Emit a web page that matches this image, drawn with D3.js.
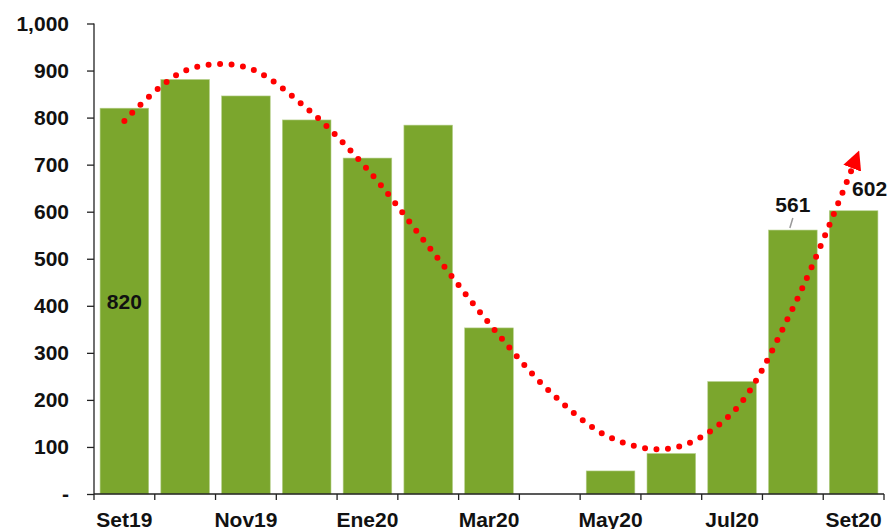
<!DOCTYPE html>
<html>
<head>
<meta charset="utf-8">
<script src="https://cdn.jsdelivr.net/npm/d3@7"></script>
<style>
  body { margin: 0; background: #fff; }
  text { font-family: Arial, "Liberation Sans", sans-serif; font-weight: bold; fill: #111; }
</style>
</head>
<body>
<svg id="chart" width="891" height="529"></svg>
<script>
var months = ["Set19", "Oct19", "Nov19", "Dic19", "Ene20", "Feb20", "Mar20",
              "Abr20", "May20", "Jun20", "Jul20", "Ago20", "Set20"];
var values = [820, 881, 846, 795, 714, 784, 353, 0, 49, 86, 239, 561, 602];
var trend = [793, 900, 907, 820, 690, 527, 363, 218, 120, 97, 172, 395, 700];
var shownMonths = ["Set19", "Nov19", "Ene20", "Mar20", "May20", "Jul20", "Set20"];
var yTicks = [0, 100, 200, 300, 400, 500, 600, 700, 800, 900, 1000];

var svg = d3.select("#chart");
var plotLeft = 94, plotRight = 884, plotTop = 23.5, plotBottom = 494;
var fs = "21px";

var x = d3.scaleBand().domain(months).range([plotLeft, plotRight]).paddingInner(0.2).paddingOuter(0.1);
var y = d3.scaleLinear().domain([0, 1000]).range([plotBottom, plotTop]);

// bars
svg.selectAll("rect.bar")
    .data(values)
    .enter()
    .append("rect")
    .attr("class", "bar")
    .attr("x", function(d, i) { return x(months[i]); })
    .attr("y", function(d) { return y(d); })
    .attr("width", x.bandwidth())
    .attr("height", function(d) { return plotBottom - y(d); })
    .style("fill", "#7BA62D")
    .style("stroke", "#b5cf8a")
    .style("stroke-width", 0.6);

// y axis
var yAxis = d3.axisLeft(y)
    .tickValues(yTicks)
    .tickSize(7)
    .tickFormat(function(d) { return d === 0 ? "-" : d3.format(",")(d); });
var gy = svg.append("g").attr("transform", "translate(" + plotLeft + ",0)").call(yAxis);
gy.select(".domain").attr("d", "M0," + plotTop + "V" + plotBottom).style("stroke", "#222").style("stroke-width", 1.3);
gy.selectAll(".tick line").style("stroke", "#222").style("stroke-width", 1.3);
gy.selectAll(".tick text")
    .attr("x", -25)
    .style("font-size", fs)
    .style("font-family", "Arial, 'Liberation Sans', sans-serif")
    .style("font-weight", "bold")
    .style("fill", "#111");

// x axis: ticks at band boundaries
var step = x.step();
var edges = months.map(function(m) { return x(m) - x.paddingInner() * step / 2; }).concat([plotRight]);
svg.append("line")
    .attr("x1", plotLeft).attr("x2", plotRight)
    .attr("y1", plotBottom).attr("y2", plotBottom)
    .style("stroke", "#222").style("stroke-width", 1.3);
svg.selectAll("line.xtick")
    .data(edges)
    .enter()
    .append("line")
    .attr("class", "xtick")
    .attr("x1", function(d) { return d; })
    .attr("x2", function(d) { return d; })
    .attr("y1", plotBottom)
    .attr("y2", plotBottom + 6)
    .style("stroke", "#222").style("stroke-width", 1.3);
svg.selectAll("text.xlabel")
    .data(shownMonths)
    .enter()
    .append("text")
    .attr("class", "xlabel")
    .attr("x", function(d) { return x(d) + x.bandwidth() / 2; })
    .attr("y", 527)
    .style("text-anchor", "middle")
    .style("font-size", fs)
    .text(function(d) { return d; });

// dotted trend with arrow
svg.append("defs").append("marker")
    .attr("id", "arrow")
    .attr("viewBox", "0 0 10 10")
    .attr("refX", 2)
    .attr("refY", 5)
    .attr("markerWidth", 19)
    .attr("markerHeight", 19)
    .attr("markerUnits", "userSpaceOnUse")
    .attr("orient", "auto")
    .append("path")
    .attr("d", "M0,0 L10,5 L0,10 Z")
    .style("fill", "#FF0000");

var line = d3.line()
    .x(function(d, i) { return x(months[i]) + x.bandwidth() / 2; })
    .y(function(d) { return y(d); })
    .curve(d3.curveCatmullRom.alpha(0.5));

svg.append("path")
    .datum(trend)
    .attr("d", line)
    .style("fill", "none")
    .style("stroke", "#FF0000")
    .style("stroke-width", 6)
    .style("stroke-linecap", "round")
    .style("stroke-dasharray", "0 11.5")
    .attr("marker-end", "url(#arrow)");

// data labels
var iS = months.indexOf("Set19"), iA = months.indexOf("Ago20"), iE = months.indexOf("Set20");
svg.append("text")
    .attr("x", x(months[iS]) + x.bandwidth() / 2)
    .attr("y", y(values[iS] / 2) + 8)
    .style("text-anchor", "middle")
    .style("font-size", fs)
    .text(values[iS]);

var cxA = x(months[iA]) + x.bandwidth() / 2;
svg.append("text")
    .attr("x", cxA)
    .attr("y", y(values[iA]) - 18)
    .style("text-anchor", "middle")
    .style("font-size", fs)
    .text(values[iA]);
svg.append("line")
    .attr("x1", cxA).attr("x2", cxA - 3)
    .attr("y1", y(values[iA]) - 12).attr("y2", y(values[iA]) - 2)
    .style("stroke", "#999").style("stroke-width", 1.5);

svg.append("text")
    .attr("x", x(months[iE]) + x.bandwidth() / 2 + 16)
    .attr("y", y(values[iE]) - 15)
    .style("text-anchor", "middle")
    .style("font-size", fs)
    .text(values[iE]);
</script>
</body>
</html>
